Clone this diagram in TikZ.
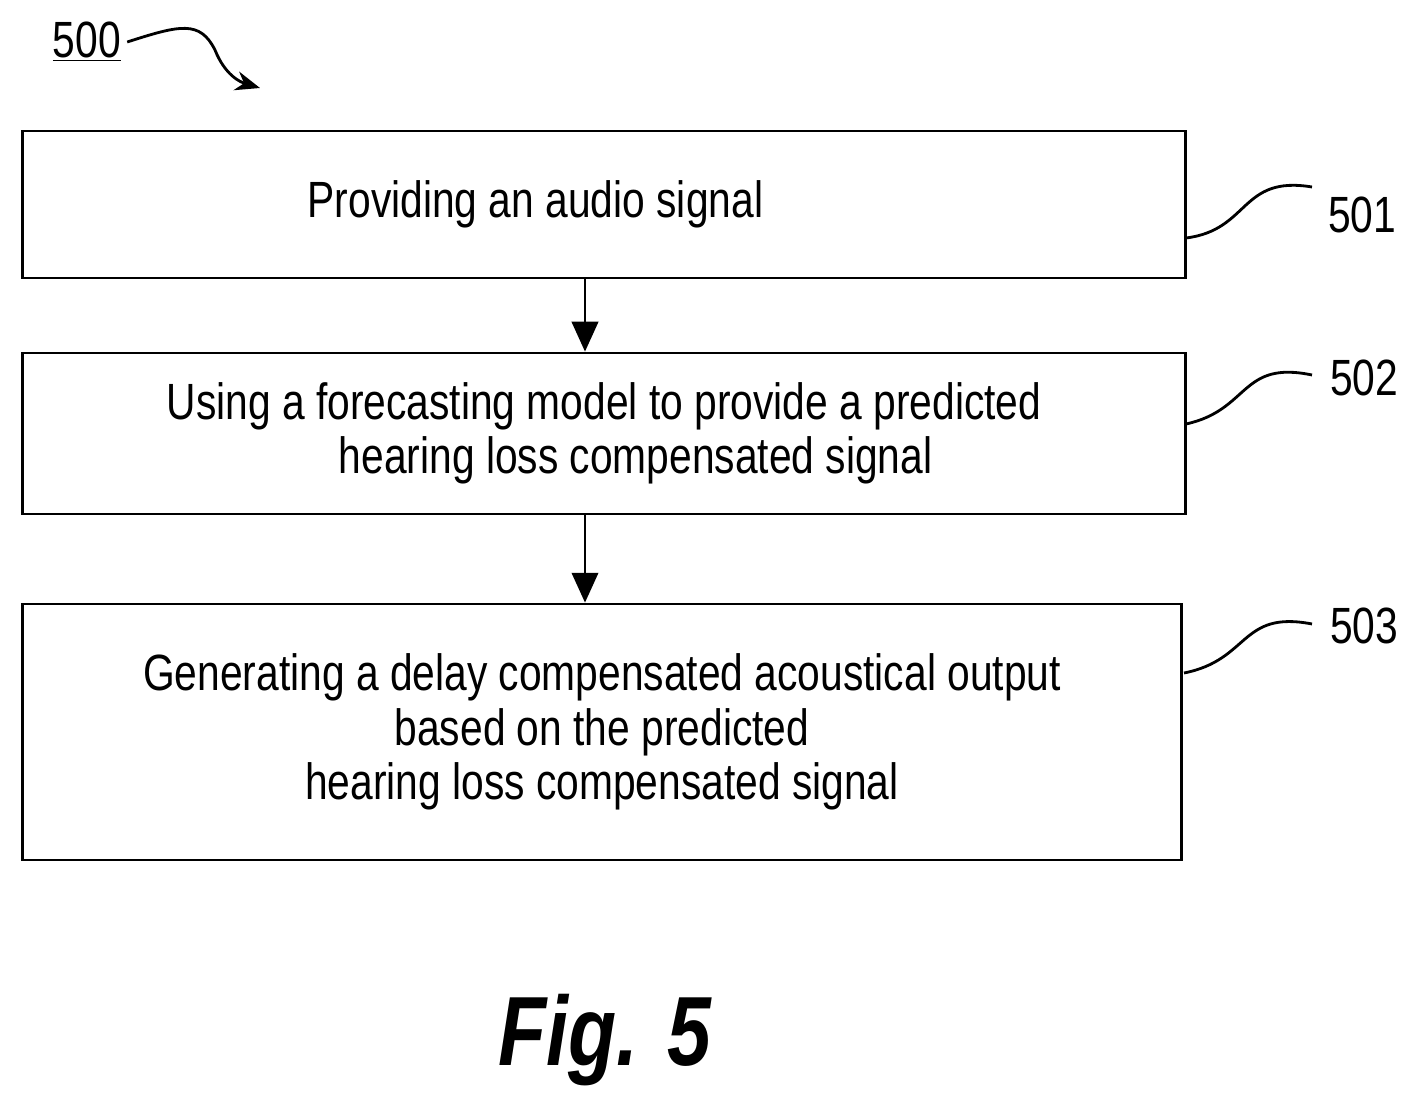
\documentclass[tikz,border=0pt]{standalone}
\usepackage{fontspec}
\setmainfont{Liberation Sans}[FakeStretch=0.8]
\usetikzlibrary{positioning,arrows.meta}

\tikzset{
  stage/.style={draw, line width=1.6pt, minimum width=23.28cm, align=center,
    font=\fontsize{29}{31}\selectfont},
  flow/.style={line width=1.6pt, -{Triangle[length=17pt,width=15pt]}},
  tag/.style={font=\fontsize{29}{31}\selectfont},
  wiggle/.style={line width=1.6pt}
}

\begin{document}
\begin{tikzpicture}[x=0.02cm,y=-0.02cm]
\useasboundingbox (0,0) rectangle (1418,1115);

\node[tag] (n500) at (87,42) {\underline{500}};
\draw[wiggle,-{Stealth[length=14pt,width=11pt]}] (n500.east) .. controls (180,25) and (200,20) .. (215,50) .. controls (225,75) and (240,82) .. (260,88);

\node[stage, minimum height=2.94cm] (s501) at (604,204.5) {\hspace*{-78pt}Providing an audio signal};
\node[stage, minimum height=3.22cm] (s502) at (604,433.5) {Using a forecasting model to provide a predicted\\hearing loss compensated signal\hspace*{-36pt}};
\node[stage, minimum width=23.2cm, minimum height=5.12cm] (s503) at (602,732) {Generating a delay compensated acoustical output\\based on the predicted\\hearing loss compensated signal};

\draw[flow] (s501.south -| 585,0) -- (s502.north -| 585,0);
\draw[flow] (s502.south -| 585,0) -- (s503.north -| 585,0);

% reference numerals
\node[tag] (t501) at (1362,215) {501};
\node[tag] (t502) at (1364,378) {502};
\node[tag] (t503) at (1364,626) {503};
\coordinate (e501) at (1186,238);
\coordinate (e502) at (1186,424);
\coordinate (e503) at (1184,673);
\draw[wiggle] (e501) .. controls (1250,230) and (1240,175) .. (1312,187);
\draw[wiggle] (e502) .. controls (1250,410) and (1240,360) .. (1312,375);
\draw[wiggle] (e503) .. controls (1250,660) and (1240,610) .. (1312,624);

\node[font=\fontsize{56}{60}\selectfont\bfseries\itshape] (fig) at (605,1040) {Fig. 5};
\end{tikzpicture}
\end{document}
